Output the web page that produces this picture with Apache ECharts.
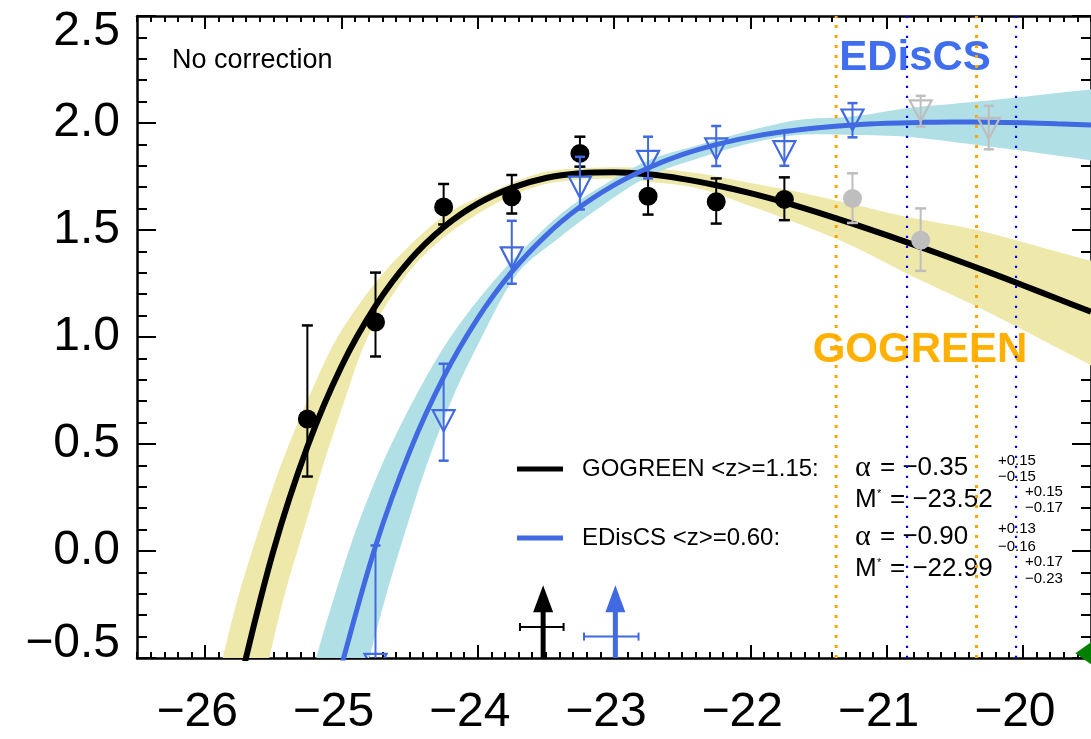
<!DOCTYPE html>
<html><head><meta charset="utf-8">
<script src="https://cdn.jsdelivr.net/npm/echarts@6/dist/echarts.min.js"></script>
<style>html,body{margin:0;padding:0;background:#fff}#c{width:1091px;height:739px}</style>
</head><body><div id="c"></div><script>
// ---------------- data ----------------
const xTicks = [-26, -25, -24, -23, -22, -21, -20];
const yTicks = [-0.5, 0, 0.5, 1, 1.5, 2, 2.5];

// GOGREEN binned LF (filled circles)
const gogM   = [-25.25, -24.75, -24.25, -23.75, -23.25, -22.75, -22.25, -21.75, -21.25, -20.75];
const gogPhi = [0.617, 1.070, 1.608, 1.655, 1.858, 1.658, 1.632, 1.643, 1.647, 1.452];
const gogLo  = [0.348, 0.909, 1.526, 1.577, 1.796, 1.572, 1.530, 1.546, 1.533, 1.309];
const gogHi  = [1.054, 1.301, 1.715, 1.757, 1.936, 1.761, 1.741, 1.746, 1.765, 1.601];

// EDisCS binned LF (open down-triangles)
const edM   = [-24.75, -24.25, -23.75, -23.25, -22.75, -22.25, -21.75, -21.25, -20.75, -20.25];
const edPhi = [-0.53, 0.609, 1.370, 1.700, 1.821, 1.879, 1.866, 2.014, 2.057, 1.975];
const edLo  = [-0.95, 0.422, 1.249, 1.596, 1.741, 1.799, 1.800, 1.933, 1.983, 1.877];
const edHi  = [0.026, 0.875, 1.543, 1.842, 1.936, 1.986, 1.960, 2.093, 2.127, 2.080];

// Schechter fits
const gogFitM = [-25.75,-25.5,-25.25,-25.0,-24.75,-24.5,-24.25,-24.0,-23.75,-23.5,-23.25,-23.0,-22.75,-22.5,-22.25,-22.0,-21.75,-21.5,-21.25,-21.0,-20.75,-20.5,-20.25,-20.0,-19.75,-19.5];
const gogFit  = [-0.633,-0.001,0.487,0.862,1.145,1.358,1.513,1.623,1.697,1.743,1.765,1.770,1.760,1.739,1.709,1.672,1.629,1.581,1.530,1.476,1.420,1.362,1.303,1.242,1.180,1.118];
const edFitM  = [-25.05,-25.0,-24.75,-24.5,-24.25,-24.0,-23.75,-23.5,-23.25,-23.0,-22.75,-22.5,-22.25,-22.0,-21.75,-21.5,-21.25,-21.0,-20.75,-20.5,-20.25,-20.0,-19.75,-19.5];
const edFit   = [-0.665,-0.537,0.022,0.463,0.812,1.087,1.304,1.474,1.607,1.710,1.790,1.852,1.899,1.934,1.960,1.978,1.991,1.999,2.003,2.005,2.004,2.001,1.996,1.991];

// uncertainty bands (edges as [M, log phi])
const gogBandUpper = [[-25.95,-0.74],[-25.871,-0.5],[-25.751,-0.2],[-25.605,0.1],[-25.445,0.4],[-25.252,0.7],[-25.028,1.0],[-24.69,1.3],[-24.25,1.565],[-23.845,1.694],[-23.5,1.772],[-23.113,1.792],[-22.75,1.79],[-22.38,1.765],[-22.0,1.72],[-21.65,1.678],[-21.25,1.62],[-20.85,1.561],[-20.33,1.499],[-19.52,1.359],[-19.4,1.34]];
const gogBandLower = [[-25.61,-0.75],[-25.529,-0.5],[-25.415,-0.2],[-25.276,0.1],[-25.135,0.4],[-24.979,0.7],[-24.806,1.0],[-24.51,1.3],[-24.25,1.465],[-23.845,1.632],[-23.5,1.715],[-23.113,1.74],[-22.75,1.725],[-22.38,1.694],[-22.0,1.612],[-21.65,1.53],[-21.25,1.425],[-20.85,1.296],[-20.33,1.14],[-19.52,0.875],[-19.4,0.84]];
const edBandUpper  = [[-25.28,-0.75],[-25.185,-0.5],[-25.046,-0.2],[-24.892,0.1],[-24.705,0.4],[-24.475,0.7],[-24.2,1.0],[-23.83,1.3],[-23.4,1.57],[-23.113,1.696],[-22.75,1.825],[-22.38,1.897],[-22.0,1.965],[-21.65,2.014],[-21.25,2.03],[-20.85,2.069],[-20.33,2.10],[-19.52,2.155],[-19.4,2.16]];
const edBandLower  = [[-24.89,-0.75],[-24.795,-0.5],[-24.669,-0.2],[-24.527,0.1],[-24.375,0.4],[-24.195,0.7],[-23.97,1.0],[-23.705,1.3],[-23.4,1.465],[-23.113,1.602],[-22.75,1.75],[-22.38,1.835],[-22.0,1.905],[-21.65,1.944],[-21.25,1.944],[-20.85,1.936],[-20.33,1.897],[-19.52,1.827],[-19.4,1.81]];

// completeness limits (dotted verticals)
const gogLimits = [-21.37, -20.34];
const edLimits  = [-20.85, -20.05];

// M* markers (arrows) with asymmetric errors
const starM     = [-23.52, -22.99];
const starErrLo = [0.17, 0.23];
const starErrHi = [0.15, 0.17];
const starTipY  = [-0.16, -0.16];
const starBarY  = [-0.355, -0.40];

// corner marker
const cornerPt = [-19.49, -0.478];

// fit parameters text
const gogLabel = 'GOGREEN <z>=1.15:';
const edLabel  = 'EDisCS <z>=0.60:';
const gogAlpha = ['\u22120.35', '+0.15', '\u22120.15'];
const gogMstar = ['\u221223.52', '+0.15', '\u22120.17'];
const edAlpha  = ['\u22120.90', '+0.13', '\u22120.16'];
const edMstar  = ['\u221222.99', '+0.17', '\u22120.23'];

// ---------------- chart ----------------
const FONT = '"Liberation Sans", Arial, Helvetica, sans-serif';
const BLACK = '#000000', BLUE = '#4169E1', GREY = '#BEBEBE';
const minus = s => String(s).replace('-', '\u2212');
const xMinor = [];
for (let k = -265; k <= -195; k++) { if (k % 10 !== 0) xMinor.push(k / 10); }

const chart = echarts.init(document.getElementById('c'), null, {renderer: 'canvas'});

const gridRect = {left: 137, right: -2, top: 16, bottom: 81};
const axLine = {show: true, onZero: false, lineStyle: {color: BLACK, width: 2.5}};

function xAx(grid, pos, major) {
  return {
    gridIndex: grid, type: 'value', position: pos, min: -26.5, max: -19.5,
    axisLine: major ? axLine : {show: false, onZero: false},
    axisTick: {show: true, inside: true, length: major ? 13 : 6,
      customValues: major ? xTicks : xMinor, lineStyle: {color: BLACK, width: 2}},
    axisLabel: (major && pos === 'bottom') ? {
      show: true, customValues: xTicks, formatter: v => minus(v),
      fontSize: 48, fontFamily: FONT, color: BLACK, margin: 31, padding: [0, 16, 0, 0]
    } : {show: false},
    splitLine: {show: false}
  };
}
function yAx(grid, pos) {
  return {
    gridIndex: grid, type: 'value', position: pos, min: -0.5, max: 2.5, interval: 0.5,
    axisLine: axLine,
    axisTick: {show: true, inside: true, length: 19, lineStyle: {color: BLACK, width: 2}},
    minorTick: {show: true, splitNumber: 5, length: 10, lineStyle: {color: BLACK, width: 2}},
    axisLabel: pos === 'left' ? {
      show: true, fontSize: 48, fontFamily: FONT, color: BLACK, margin: 17,
      formatter: v => {
        const s = minus(v.toFixed(1));
        if (Math.abs(v - 2.5) < 1e-9) return '{t|' + s + '}';
        if (Math.abs(v + 0.5) < 1e-9) return '{b|' + s + '}';
        return s;
      },
      rich: {
        t: {fontSize: 48, fontFamily: FONT, color: BLACK, padding: [32, 0, 0, 0]},
        b: {fontSize: 48, fontFamily: FONT, color: BLACK, padding: [0, 0, 28, 0]}
      }
    } : {show: false},
    splitLine: {show: false}, minorSplitLine: {show: false}
  };
}

function bandSeries(upper, lower, color) {
  return {
    type: 'custom', xAxisIndex: 0, yAxisIndex: 0, clip: true, z: 1, silent: true,
    data: [upper[0]],
    renderItem: (params, api) => {
      const up = upper.map(p => api.coord(p));
      const lo = lower.slice().reverse().map(p => api.coord(p));
      return {type: 'group', children: [
        {type: 'polygon', shape: {points: up.concat(lo), smooth: 0.3}, style: {fill: color}}
      ]};
    }
  };
}
function vline(x, color, width, dash) {
  return {
    type: 'line', xAxisIndex: 0, yAxisIndex: 0, z: 3, silent: true, symbol: 'none',
    data: [[x, -0.5], [x, 2.5]],
    lineStyle: {color: color, width: width, type: dash, cap: 'butt'}
  };
}
function curve(ms, vals, color, width) {
  return {
    type: 'line', xAxisIndex: 0, yAxisIndex: 0, z: 4, silent: true, symbol: 'none', smooth: 0.35,
    data: ms.map((m, i) => [m, vals[i]]),
    lineStyle: {color: color, width: width, cap: 'butt'}
  };
}
function errSeries(ms, lo, hi, colorFn, z, capW, lw) {
  return {
    type: 'custom', xAxisIndex: 0, yAxisIndex: 0, clip: true, z: z, silent: true,
    data: ms.map((m, i) => [m, lo[i], hi[i]]),
    renderItem: (params, api) => {
      const m = api.value(0);
      const a = api.coord([m, api.value(2)]);
      const b = api.coord([m, api.value(1)]);
      const c = colorFn(m);
      const st = {stroke: c, lineWidth: lw};
      return {type: 'group', children: [
        {type: 'line', shape: {x1: a[0], y1: a[1], x2: b[0], y2: b[1]}, style: st},
        {type: 'line', shape: {x1: a[0] - capW / 2, y1: a[1], x2: a[0] + capW / 2, y2: a[1]}, style: {stroke: c, lineWidth: lw + 0.5}},
        {type: 'line', shape: {x1: b[0] - capW / 2, y1: b[1], x2: b[0] + capW / 2, y2: b[1]}, style: {stroke: c, lineWidth: lw + 0.5}}
      ]};
    }
  };
}
const gogColor = m => (m > gogLimits[0] ? GREY : BLACK);
const edColor  = m => (m > edLimits[0] ? GREY : BLUE);

const series = [
  bandSeries(gogBandUpper, gogBandLower, '#EEE8AA'),
  bandSeries(edBandUpper, edBandLower, '#B0E0E6'),
  vline(gogLimits[0], '#FFA500', 3, [3, 7]),
  vline(gogLimits[1], '#FFA500', 3, [3, 7]),
  vline(edLimits[0], '#0000FF', 2.2, [2.2, 7.8]),
  vline(edLimits[1], '#0000FF', 2.2, [2.2, 7.8]),
  curve(gogFitM, gogFit, BLACK, 6),
  curve(edFitM, edFit, BLUE, 5),
  // M* arrows
  {
    type: 'custom', xAxisIndex: 0, yAxisIndex: 0, clip: false, z: 5, silent: true,
    data: starM.map((m, i) => [m, starTipY[i], starBarY[i], starErrLo[i], starErrHi[i]]),
    renderItem: (params, api) => {
      const i = params.dataIndex;
      const m = api.value(0);
      const c = i === 0 ? BLACK : BLUE;
      const base = api.coord([m, -0.5]);
      const tip = api.coord([m, api.value(1)]);
      const l = api.coord([m - api.value(3), api.value(2)]);
      const r = api.coord([m + api.value(4), api.value(2)]);
      const hh = 27, hw = 10;
      return {type: 'group', children: [
        {type: 'line', shape: {x1: base[0], y1: base[1], x2: tip[0], y2: tip[1] + hh - 1}, style: {stroke: c, lineWidth: 5}},
        {type: 'polygon', shape: {points: [[tip[0], tip[1]], [tip[0] - hw, tip[1] + hh], [tip[0] + hw, tip[1] + hh]]}, style: {fill: c}},
        {type: 'line', shape: {x1: l[0], y1: l[1], x2: r[0], y2: r[1]}, style: {stroke: c, lineWidth: 2}},
        {type: 'line', shape: {x1: l[0], y1: l[1] - 4, x2: l[0], y2: l[1] + 4}, style: {stroke: c, lineWidth: 2}},
        {type: 'line', shape: {x1: r[0], y1: r[1] - 4, x2: r[0], y2: r[1] + 4}, style: {stroke: c, lineWidth: 2}}
      ]};
    }
  },
  errSeries(gogM, gogLo, gogHi, gogColor, 6, 11, 2),
  {
    type: 'scatter', xAxisIndex: 0, yAxisIndex: 0, z: 6, silent: true, symbol: 'circle', symbolSize: 19,
    data: gogM.map((m, i) => ({value: [m, gogPhi[i]], itemStyle: {color: gogColor(m), opacity: 1}}))
  },
  errSeries(edM, edLo, edHi, edColor, 7, 10, 2),
  {
    type: 'custom', xAxisIndex: 0, yAxisIndex: 0, clip: true, z: 7, silent: true,
    data: edM.map((m, i) => [m, edPhi[i]]),
    renderItem: (params, api) => {
      const c = api.coord([api.value(0), api.value(1)]);
      const w = 11, h = 10.5;
      return {type: 'polygon', shape: {points: [[c[0] - w, c[1] - h], [c[0] + w, c[1] - h], [c[0], c[1] + h]]},
        style: {fill: 'none', stroke: edColor(api.value(0)), lineWidth: 2.2}};
    }
  },
  // green marker at the lower-right corner
  {
    type: 'custom', xAxisIndex: 0, yAxisIndex: 0, clip: false, z: 8, silent: true,
    data: [cornerPt],
    renderItem: (params, api) => {
      const c = api.coord([api.value(0), api.value(1)]);
      const sx = 17, sy = 12;
      return {type: 'polygon', shape: {points: [[c[0], c[1] - sy], [c[0] + sx, c[1]], [c[0], c[1] + sy], [c[0] - sx, c[1]]]}, style: {fill: '#008000'}};
    }
  }
];

function txt(x, y, text, font, fill, align, z) {
  return {type: 'text', x: x, y: y, z: z || 2, silent: true,
    style: {text: text, font: font, fill: fill || BLACK, align: align || 'left', verticalAlign: 'middle'}};
}
const F = (sz, bold) => (bold ? 'bold ' : '') + sz + 'px ' + FONT;
const SERIF = '"Liberation Serif", "DejaVu Serif", serif';

const graphics = [
  txt(172, 61, 'No correction', F(27)),
  txt(915, 58, 'EDisCS', F(42, true), '#3F6FEF', 'center'),
  txt(920, 350, 'GOGREEN', F(42, true), '#FFB000', 'center'),
  {type: 'line', z: 2, silent: true, shape: {x1: 517, y1: 469, x2: 563, y2: 469}, style: {stroke: BLACK, lineWidth: 5}},
  {type: 'line', z: 2, silent: true, shape: {x1: 517, y1: 538, x2: 563, y2: 538}, style: {stroke: BLUE, lineWidth: 5}},
  txt(582, 469, gogLabel, F(24)),
  txt(582, 538, edLabel, F(24)),
  // GOGREEN parameters
  txt(855, 468, '\u03B1', '30px ' + SERIF),
  txt(880, 468, '= ' + gogAlpha[0], F(26)),
  txt(998, 461, gogAlpha[1], F(15)),
  txt(998, 477, gogAlpha[2], F(15)),
  txt(855, 500, 'M', F(26)),
  txt(877, 494, '*', F(11)),
  txt(890, 500, '= ' + gogMstar[0], F(26)),
  txt(1025, 492, gogMstar[1], F(15)),
  txt(1025, 508, gogMstar[2], F(15)),
  // EDisCS parameters
  txt(855, 537, '\u03B1', '30px ' + SERIF),
  txt(880, 537, '= ' + edAlpha[0], F(26)),
  txt(998, 529, edAlpha[1], F(15)),
  txt(998, 547, edAlpha[2], F(15)),
  txt(855, 569, 'M', F(26)),
  txt(877, 563, '*', F(11)),
  txt(890, 569, '= ' + edMstar[0], F(26)),
  txt(1025, 562, edMstar[1], F(15)),
  txt(1025, 579, edMstar[2], F(15))
];

const yHidden = yAx(1, 'left');
yHidden.show = false;

chart.setOption({
  animation: false,
  backgroundColor: '#ffffff',
  grid: [Object.assign({}, gridRect), Object.assign({}, gridRect)],
  xAxis: [xAx(0, 'bottom', true), xAx(0, 'top', true), xAx(1, 'bottom', false), xAx(1, 'top', false)],
  yAxis: [yAx(0, 'left'), yAx(0, 'right'), yHidden],
  series: series,
  graphic: {elements: graphics}
});
</script></body></html>
